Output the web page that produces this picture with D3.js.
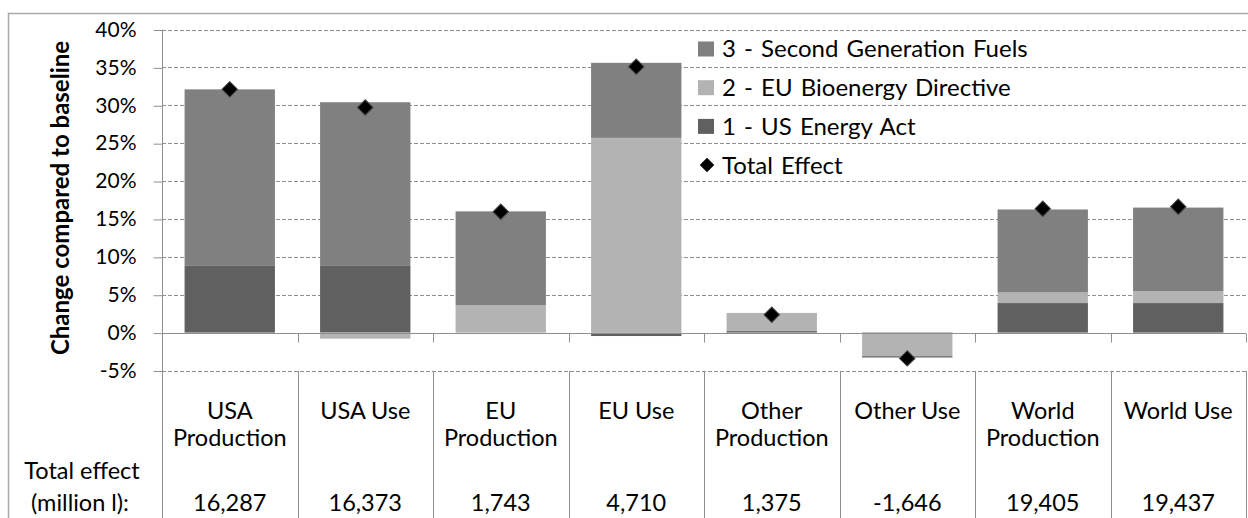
<!DOCTYPE html>
<html><head><meta charset="utf-8">
<script src="https://cdn.jsdelivr.net/npm/d3@7"></script>
<style>body{margin:0;background:#fff}svg{display:block;font-family:Lato,"Open Sans",sans-serif}</style>
</head><body><svg id="c" width="1248" height="518"></svg>
<script>
const categories = ["USA Production","USA Use","EU Production","EU Use","Other Production","Other Use","World Production","World Use"];
const categoryLines = [["USA","Production"],["USA Use"],["EU","Production"],["EU Use"],["Other","Production"],["Other Use"],["World","Production"],["World Use"]];
const seriesNames = ["1 - US Energy Act","2 - EU Bioenergy Directive","3 - Second Generation Fuels"];
const usEnergyAct = [8.8, 8.8, 0.0, -0.45, 0.2, -0.15, 3.9, 3.9];
const euBioenergy = [0.0, -0.8, 3.6, 25.7, 2.4, -2.9, 1.4, 1.55];
const secondGen = [23.3, 21.6, 12.4, 9.9, 0.0, -0.25, 10.95, 11.05];
const totalEffect = [32.1, 29.7, 15.95, 35.1, 2.35, -3.4, 16.35, 16.6];
const totalLabels = ["16,287","16,373","1,743","4,710","1,375","-1,646","19,405","19,437"];
const yTicks = [-5,0,5,10,15,20,25,30,35,40];
const colors = ["#606060","#b3b3b3","#808080"];

const svg = d3.select("#c");
const W = 1248, H = 518;
svg.append("rect").attr("width",W).attr("height",H).attr("fill","#fff");

const x = d3.scaleBand().domain(categories).range([162,1246]).padding(0);
const y = d3.scaleLinear().domain([-5,40]).range([370.5,29.5]);
const bw = x.bandwidth()/1.5;

// outer border
svg.append("path").attr("d","M8.5,518V13.5H1248").attr("fill","none").attr("stroke","#a8a8a8").attr("stroke-width",1.5);

// gridlines
svg.append("g").selectAll("line").data(yTicks).join("line")
  .attr("x1",162).attr("x2",1248).attr("y1",d=>Math.round(y(d))+0.5).attr("y2",d=>Math.round(y(d))+0.5)
  .attr("stroke","#8f8f8f").attr("stroke-dasharray","4,2");

// y axis
const yAxis = svg.append("g").attr("transform","translate(162.5,0)")
  .call(d3.axisLeft(y).tickValues(yTicks).tickSize(9).tickPadding(17).tickFormat(d=>d+"%"));
yAxis.selectAll("line").attr("stroke","#8f8f8f").attr("transform","translate(0,0.5)");
yAxis.select(".domain").remove();
yAxis.selectAll("text").attr("font-family","Lato").attr("font-size",21).attr("fill","#000");
svg.append("line").attr("x1",162.5).attr("x2",162.5).attr("y1",y(40)).attr("y2",H).attr("stroke","#8f8f8f");

// bars
const rows = categories.map((c,i)=>({cat:c,s0:usEnergyAct[i],s1:euBioenergy[i],s2:secondGen[i]}));
const stack = d3.stack().keys(["s0","s1","s2"]).offset(d3.stackOffsetDiverging)(rows);
svg.append("g").selectAll("g").data(stack).join("g").attr("fill",(d,i)=>colors[i])
  .selectAll("rect").data(d=>d).join("rect")
  .attr("x",d=>x(d.data.cat)+(x.bandwidth()-bw)/2)
  .attr("width",bw)
  .attr("y",d=>y(Math.max(d[0],d[1])))
  .attr("height",d=>Math.abs(y(d[0])-y(d[1])));

// zero axis + ticks
const z = Math.round(y(0))+0.5;
svg.append("line").attr("x1",162).attr("x2",1246).attr("y1",z).attr("y2",z).attr("stroke","#8f8f8f").attr("stroke-width",1.2);
const bounds = categories.map(c=>x(c)).concat([x.range()[1]]);
svg.append("g").selectAll("line").data(bounds).join("line")
  .attr("x1",d=>Math.round(d)+0.5).attr("x2",d=>Math.round(d)+0.5).attr("y1",z).attr("y2",z+9).attr("stroke","#8f8f8f");
// table lines
svg.append("g").selectAll("line").data(bounds.slice(1)).join("line")
  .attr("x1",d=>Math.round(d)+0.5).attr("x2",d=>Math.round(d)+0.5).attr("y1",Math.round(y(-5))).attr("y2",H).attr("stroke","#8f8f8f");

// diamonds
const diamond = d3.symbol().type(d3.symbolSquare).size(120);
svg.append("g").selectAll("path").data(totalEffect).join("path")
  .attr("d",diamond())
  .attr("transform",(d,i)=>`translate(${x(categories[i])+x.bandwidth()/2},${y(d)}) rotate(45)`)
  .attr("fill","#000").attr("stroke","#444").attr("stroke-width",1);

// category labels
const lab = svg.append("g").attr("font-size",23.5).attr("text-anchor","middle").attr("fill","#000");
categoryLines.forEach((ls,i)=>{
  ls.forEach((t,j)=>{
    lab.append("text").attr("x",x(categories[i])+x.bandwidth()/2).attr("y",411+j*26.5).attr("dy","0.35em").text(t);
  });
  lab.append("text").attr("x",x(categories[i])+x.bandwidth()/2).attr("y",503).attr("dy","0.35em").text(totalLabels[i]);
});
lab.append("text").attr("x",82).attr("y",471).attr("dy","0.35em").text("Total effect");
lab.append("text").attr("x",80).attr("y",503).attr("dy","0.35em").text("(million l):");

// y title
svg.append("text").attr("transform","translate(61,198) rotate(-90)").attr("text-anchor","middle")
  .attr("dy","0.35em").attr("font-weight","bold").attr("font-size",24).text("Change compared to baseline");

// legend
const legItems = [{n:seriesNames[2],c:colors[2]},{n:seriesNames[1],c:colors[1]},{n:seriesNames[0],c:colors[0]},{n:"Total Effect",c:null}];
const leg = svg.append("g").attr("font-size",24).attr("word-spacing",2);
legItems.forEach((d,i)=>{
  const cy = 49 + i*38.7;
  if(d.c) leg.append("rect").attr("x",698).attr("y",cy-7.5).attr("width",16).attr("height",15).attr("fill",d.c);
  else leg.append("path").attr("d",d3.symbol().type(d3.symbolSquare).size(105)()).attr("transform",`translate(707,${cy}) rotate(45)`).attr("fill","#000");
  leg.append("text").attr("x",722).attr("y",cy).attr("dy","0.35em").text(d.n);
});
</script></body></html>
